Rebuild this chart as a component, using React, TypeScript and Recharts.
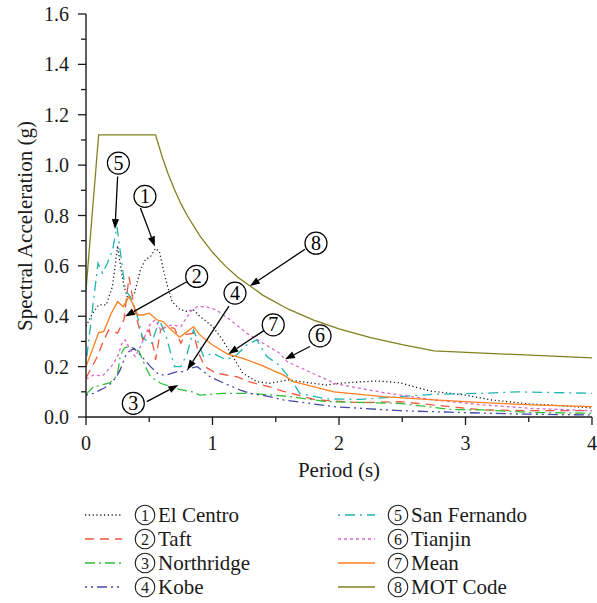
import React from 'react'
import { LineChart, Line, XAxis, YAxis, ReferenceLine, ReferenceDot } from 'recharts'

// periods (s) and spectral accelerations (g)
const elCentroT = [0, 0.05, 0.1, 0.16, 0.21, 0.25, 0.27, 0.3, 0.33, 0.38, 0.43, 0.47, 0.51, 0.55, 0.58, 0.63, 0.68, 0.74, 0.79, 0.85, 0.9, 1.0, 1.08, 1.16, 1.24, 1.35, 1.45, 1.6, 1.7, 1.9, 2.0, 2.3, 2.48, 2.72, 2.88, 3.0, 3.2, 3.5, 3.75, 4.0]
const elCentroSa = [0.36, 0.41, 0.445, 0.445, 0.52, 0.68, 0.61, 0.52, 0.47, 0.485, 0.585, 0.625, 0.637, 0.67, 0.657, 0.545, 0.458, 0.428, 0.42, 0.425, 0.4, 0.36, 0.306, 0.24, 0.174, 0.14, 0.134, 0.147, 0.14, 0.127, 0.134, 0.143, 0.136, 0.103, 0.094, 0.087, 0.068, 0.052, 0.045, 0.036]

const taftT = [0, 0.09, 0.13, 0.18, 0.25, 0.3, 0.34, 0.38, 0.41, 0.45, 0.5, 0.54, 0.55, 0.59, 0.63, 0.7, 0.75, 0.78, 0.85, 0.89, 0.94, 1.03, 1.19, 1.3, 1.45, 1.56, 1.82, 2.17, 2.48, 2.88, 3.14, 3.53, 4.0]
const taftSa = [0.155, 0.24, 0.293, 0.346, 0.333, 0.386, 0.557, 0.438, 0.372, 0.306, 0.346, 0.26, 0.227, 0.346, 0.359, 0.352, 0.293, 0.326, 0.333, 0.253, 0.2, 0.174, 0.16, 0.138, 0.12, 0.102, 0.068, 0.057, 0.061, 0.041, 0.028, 0.025, 0.025]

const northridgeT = [0, 0.06, 0.12, 0.18, 0.22, 0.25, 0.27, 0.3, 0.34, 0.38, 0.42, 0.47, 0.51, 0.59, 0.67, 0.74, 0.84, 0.9, 1.08, 1.27, 1.48, 1.61, 1.9, 2.17, 2.48, 2.88, 3.14, 3.53, 4.0]
const northridgeSa = [0.09, 0.12, 0.127, 0.134, 0.147, 0.174, 0.24, 0.273, 0.28, 0.273, 0.26, 0.2, 0.16, 0.134, 0.12, 0.11, 0.1, 0.087, 0.094, 0.094, 0.087, 0.081, 0.061, 0.058, 0.054, 0.03, 0.028, 0.018, 0.015]

const kobeT = [0, 0.06, 0.14, 0.2, 0.24, 0.27, 0.31, 0.34, 0.38, 0.43, 0.51, 0.58, 0.64, 0.72, 0.78, 0.82, 0.88, 0.98, 1.11, 1.22, 1.3, 1.43, 1.56, 1.96, 2.48, 2.88, 3.4, 4.0]
const kobeSa = [0.087, 0.094, 0.114, 0.134, 0.16, 0.187, 0.24, 0.26, 0.273, 0.246, 0.2, 0.167, 0.167, 0.18, 0.18, 0.193, 0.2, 0.16, 0.13, 0.107, 0.094, 0.083, 0.068, 0.041, 0.025, 0.019, 0.012, 0.008]

const sanFernandoT = [0, 0.06, 0.095, 0.13, 0.17, 0.21, 0.245, 0.29, 0.31, 0.35, 0.4, 0.445, 0.47, 0.52, 0.58, 0.63, 0.7, 0.75, 0.8, 0.85, 0.93, 1.0, 1.11, 1.19, 1.27, 1.35, 1.43, 1.53, 1.64, 1.69, 1.9, 2.17, 2.48, 2.75, 3.14, 3.4, 4.0]
const sanFernandoSa = [0.213, 0.465, 0.611, 0.571, 0.611, 0.664, 0.756, 0.584, 0.505, 0.478, 0.412, 0.319, 0.306, 0.293, 0.386, 0.326, 0.2, 0.2, 0.253, 0.346, 0.24, 0.253, 0.227, 0.246, 0.286, 0.306, 0.24, 0.205, 0.134, 0.094, 0.072, 0.07, 0.081, 0.09, 0.094, 0.1, 0.094]

const tianjinT = [0, 0.06, 0.13, 0.2, 0.25, 0.29, 0.31, 0.35, 0.39, 0.43, 0.47, 0.51, 0.55, 0.59, 0.64, 0.68, 0.75, 0.8, 0.84, 0.88, 0.95, 1.03, 1.14, 1.27, 1.4, 1.53, 1.59, 1.82, 1.98, 2.35, 2.75, 3.14, 3.53, 4.0]
const tianjinSa = [0.15, 0.167, 0.163, 0.2, 0.24, 0.3, 0.306, 0.266, 0.24, 0.28, 0.326, 0.372, 0.386, 0.346, 0.359, 0.366, 0.359, 0.399, 0.425, 0.438, 0.438, 0.425, 0.386, 0.333, 0.293, 0.253, 0.22, 0.167, 0.131, 0.097, 0.068, 0.048, 0.034, 0.025]

const meanT = [0, 0.05, 0.1, 0.14, 0.2, 0.25, 0.295, 0.34, 0.37, 0.41, 0.45, 0.5, 0.56, 0.61, 0.66, 0.74, 0.8, 0.85, 0.9, 1.0, 1.12, 1.24, 1.38, 1.5, 1.56, 1.64, 1.96, 2.35, 2.75, 3.14, 3.53, 4.0]
const meanSa = [0.2, 0.266, 0.335, 0.339, 0.412, 0.458, 0.438, 0.478, 0.449, 0.405, 0.405, 0.412, 0.386, 0.379, 0.352, 0.317, 0.339, 0.359, 0.326, 0.286, 0.25, 0.233, 0.207, 0.18, 0.167, 0.14, 0.1, 0.081, 0.068, 0.057, 0.048, 0.041]

const motT = [0, 0.1, 0.55, 0.6, 0.65, 0.7, 0.75, 0.8, 0.9, 1.0, 1.1, 1.2, 1.4, 1.6, 1.8, 2.0, 2.25, 2.5, 2.75, 4.0]
const motSa = [0.504, 1.12, 1.12, 1.036, 0.964, 0.902, 0.847, 0.8, 0.719, 0.654, 0.6, 0.555, 0.483, 0.428, 0.385, 0.35, 0.315, 0.287, 0.2625, 0.2345]

const xTicks = [0, 0.5, 1, 1.5, 2, 2.5, 3, 3.5, 4]
const yTicks = [0, 0.1, 0.2, 0.3, 0.4, 0.5, 0.6, 0.7, 0.8, 0.9, 1.0, 1.1, 1.2, 1.3, 1.4, 1.5, 1.6]

// callouts: circle centre, arrow start, arrow tip (data units)
const callouts = [
  { n: '1', cx: 0.466, cy: 0.876, fx: 0.43, fy: 0.83, tx: 0.545, ty: 0.677 },
  { n: '2', cx: 0.875, cy: 0.558, fx: 0.8, fy: 0.538, tx: 0.308, ty: 0.399 },
  { n: '3', cx: 0.374, cy: 0.054, fx: 0.48, fy: 0.061, tx: 0.73, ty: 0.127 },
  { n: '4', cx: 1.178, cy: 0.492, fx: 1.13, fy: 0.44, tx: 0.8, ty: 0.187 },
  { n: '5', cx: 0.256, cy: 1.008, fx: 0.25, fy: 0.955, tx: 0.229, ty: 0.746 },
  { n: '6', cx: 1.85, cy: 0.322, fx: 1.77, fy: 0.28, tx: 1.573, ty: 0.229 },
  { n: '7', cx: 1.48, cy: 0.366, fx: 1.415, fy: 0.346, tx: 1.125, ty: 0.25 },
  { n: '8', cx: 1.818, cy: 0.69, fx: 1.731, fy: 0.666, tx: 1.296, ty: 0.52 },
]

const FONT = '"Liberation Serif", "Times New Roman", serif'
const INK = '#1a1a1a'

const zip = (t: number[], s: number[]) => t.map((v, i) => ({ t: v, sa: s[i] }))

const series = [
  { name: 'El Centro', mark: '1', data: zip(elCentroT, elCentroSa), color: '#1a1a1a', dash: '1.2 2.6' },
  { name: 'Taft', mark: '2', data: zip(taftT, taftSa), color: '#f2553d', dash: '9 6' },
  { name: 'Northridge', mark: '3', data: zip(northridgeT, northridgeSa), color: '#2fbf3a', dash: '10 4 2 4' },
  { name: 'Kobe', mark: '4', data: zip(kobeT, kobeSa), color: '#4848a8', dash: '2 4 2 4 10 4' },
  { name: 'San Fernando', mark: '5', data: zip(sanFernandoT, sanFernandoSa), color: '#1fb5b0', dash: '2 5 10 5' },
  { name: 'Tianjin', mark: '6', data: zip(tianjinT, tianjinSa), color: '#d966cc', dash: '3 3' },
  { name: 'Mean', mark: '7', data: zip(meanT, meanSa), color: '#ff7f1e', dash: undefined },
  { name: 'MOT Code', mark: '8', data: zip(motT, motSa), color: '#808020', dash: undefined },
]

const XTick = (p: any) => {
  const v = p.payload.value
  const major = Math.abs(v - Math.round(v)) < 1e-6
  return (
    <g>
      <line x1={p.x} x2={p.x} y1={p.y} y2={p.y + (major ? 8 : 5)} stroke={INK} strokeWidth={1.3} />
      {major && (
        <text x={p.x} y={p.y + 33} textAnchor="middle" fontFamily={FONT} fontSize={20} fill={INK}>
          {v}
        </text>
      )}
    </g>
  )
}

const YTick = (p: any) => {
  const v = p.payload.value
  const major = Math.round(v * 10) % 2 === 0
  return (
    <g>
      <line x1={p.x - (major ? 8 : 5)} x2={p.x} y1={p.y} y2={p.y} stroke={INK} strokeWidth={1.3} />
      {major && (
        <text x={p.x - 17} y={p.y + 7} textAnchor="end" fontFamily={FONT} fontSize={20} fill={INK}>
          {v.toFixed(1)}
        </text>
      )}
    </g>
  )
}

const Arrow = (p: any) => {
  const { x1, y1, x2, y2 } = p
  const dx = x2 - x1
  const dy = y2 - y1
  const len = Math.hypot(dx, dy) || 1
  const ux = dx / len
  const uy = dy / len
  const hl = 10
  const hw = 3.6
  const bx = x2 - ux * hl
  const by = y2 - uy * hl
  return (
    <g>
      <line x1={x1} y1={y1} x2={bx} y2={by} stroke="#000" strokeWidth={1.3} />
      <polygon
        points={`${x2},${y2} ${bx - uy * hw},${by + ux * hw} ${bx + uy * hw},${by - ux * hw}`}
        fill="#000"
      />
    </g>
  )
}

const Bubble = (label: string) => (p: any) => (
  <g>
    <circle cx={p.cx} cy={p.cy} r={11} fill="#fff" stroke="#000" strokeWidth={1.2} />
    <text x={p.cx} y={p.cy + 6.5} textAnchor="middle" fontFamily={FONT} fontSize={20} fill="#000">
      {label}
    </text>
  </g>
)

const LegendRow = ({ s }: { s: (typeof series)[number] }) => (
  <div style={{ display: 'flex', alignItems: 'center', height: 24 }}>
    <svg width={37} height={10} style={{ marginRight: 12 }}>
      <line x1={0} x2={37} y1={5} y2={5} stroke={s.color} strokeWidth={1.5} strokeDasharray={s.dash} />
    </svg>
    <svg width={22} height={22} style={{ marginRight: 2 }}>
      <circle cx={11} cy={11} r={9.8} fill="none" stroke={INK} strokeWidth={1.1} />
      <text x={11} y={16.5} textAnchor="middle" fontFamily={FONT} fontSize={16} fill={INK}>
        {s.mark}
      </text>
    </svg>
    <span style={{ fontFamily: FONT, fontSize: 21, lineHeight: '22px', color: INK, whiteSpace: 'nowrap' }}>
      {s.name}
    </span>
  </div>
)

export default function App() {
  return (
    <div style={{ position: 'absolute', left: 0, top: 0, width: 597, height: 603, background: '#fff' }}>
      <LineChart width={597} height={603} margin={{ top: 14, right: 5, bottom: 116, left: 0 }}>
        <XAxis
          type="number"
          dataKey="t"
          domain={[0, 4]}
          ticks={xTicks}
          interval={0}
          tick={XTick}
          tickLine={false}
          tickSize={0}
          tickMargin={0}
          height={70}
          axisLine={{ stroke: INK, strokeWidth: 1.4 }}
          allowDataOverflow
          label={{
            content: (p: any) => (
              <text
                x={p.viewBox.x + p.viewBox.width / 2}
                y={p.viewBox.y + 60}
                textAnchor="middle"
                fontFamily={FONT}
                fontSize={21}
                fill={INK}
              >
                Period (s)
              </text>
            ),
          }}
        />
        <YAxis
          type="number"
          domain={[0, 1.6]}
          ticks={yTicks}
          interval={0}
          tick={YTick}
          tickLine={false}
          tickSize={0}
          tickMargin={0}
          width={86}
          axisLine={{ stroke: INK, strokeWidth: 1.4 }}
          allowDataOverflow
          label={{
            content: () => (
              <text
                transform="translate(25, 226) rotate(-90)"
                textAnchor="middle"
                dominantBaseline="central"
                fontFamily={FONT}
                fontSize={21}
                fill={INK}
              >
                Spectral Acceleration (g)
              </text>
            ),
          }}
        />
        {series.map((s) => (
          <Line
            key={s.name}
            data={s.data}
            dataKey="sa"
            type="linear"
            stroke={s.color}
            strokeWidth={1.3}
            strokeDasharray={s.dash}
            dot={false}
            activeDot={false}
            isAnimationActive={false}
          />
        ))}
        {callouts.map((c) => (
          <ReferenceLine
            key={'a' + c.n}
            segment={[
              { x: c.fx, y: c.fy },
              { x: c.tx, y: c.ty },
            ]}
            shape={Arrow}
          />
        ))}
        {callouts.map((c) => (
          <ReferenceDot key={'c' + c.n} x={c.cx} y={c.cy} r={11} shape={Bubble(c.n)} />
        ))}
      </LineChart>
      <div style={{ position: 'absolute', left: 85, top: 503 }}>
        {series.slice(0, 4).map((s) => (
          <LegendRow key={s.name} s={s} />
        ))}
      </div>
      <div style={{ position: 'absolute', left: 338, top: 503 }}>
        {series.slice(4).map((s) => (
          <LegendRow key={s.name} s={s} />
        ))}
      </div>
    </div>
  )
}
